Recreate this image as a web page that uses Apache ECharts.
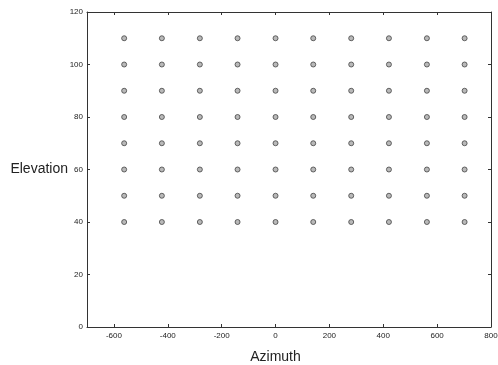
<!DOCTYPE html>
<html><head><meta charset="utf-8">
<script src="https://cdn.jsdelivr.net/npm/echarts@6/dist/echarts.min.js"></script>
<style>html,body{margin:0;padding:0;background:#fff}#c{width:498px;height:365px}</style>
</head><body><div id="c"></div>
<script>
const azimuths = [-562, -422, -281, -141, 0, 140, 281, 421, 562, 702];
const elevations = [110, 100, 90, 80, 70, 60, 50, 40];
const xTicks = [-600, -400, -200, 0, 200, 400, 600, 800];
const yTicks = [0, 20, 40, 60, 80, 100, 120];

const pts = [];
elevations.forEach(e => azimuths.forEach(a => pts.push([a, e])));

const axisLine = {show: true, onZero: false, lineStyle: {color: '#333', width: 1}};
const tickIn = {show: true, inside: true, length: 3, lineStyle: {color: '#333'}};
const lbl = {fontFamily: 'Liberation Sans, Arial', fontSize: 8, color: '#222'};

const chart = echarts.init(document.getElementById('c'), null, {renderer: 'canvas'});
chart.setOption({
  animation: false,
  grid: {left: 87, right: 7, top: 12, bottom: 38, containLabel: false, outerBoundsMode: 'none'},
  xAxis: [
    {type: 'value', min: -700, max: 800, position: 'bottom',
     axisLine, axisTick: Object.assign({}, tickIn, {customValues: xTicks}),
     splitLine: {show: false},
     axisLabel: Object.assign({}, lbl, {margin: 5, customValues: xTicks}),
     name: 'Azimuth', nameLocation: 'middle', nameGap: 23, nameMoveOverlap: false,
     nameTextStyle: {fontFamily: 'Liberation Sans, Arial', fontSize: 14, color: '#222', padding: [0, 27, 0, 0]}},
    {type: 'value', min: -700, max: 800, position: 'top',
     axisLine, axisTick: Object.assign({}, tickIn, {customValues: xTicks}),
     axisLabel: {show: false}, splitLine: {show: false}}
  ],
  yAxis: [
    {type: 'value', min: 0, max: 120, interval: 20, position: 'left',
     axisLine, axisTick: tickIn, splitLine: {show: false},
     axisLabel: Object.assign({}, lbl, {margin: 4}),
     name: 'Elevation', nameLocation: 'middle', nameRotate: 0, nameGap: 19, nameMoveOverlap: false,
     nameTextStyle: {fontFamily: 'Liberation Sans, Arial', fontSize: 14, color: '#222', align: 'right'}},
    {type: 'value', min: 0, max: 120, interval: 20, position: 'right',
     axisLine, axisTick: tickIn, splitLine: {show: false}, axisLabel: {show: false}}
  ],
  series: [{
    type: 'scatter', data: pts, symbol: 'circle', symbolSize: 5,
    itemStyle: {color: '#a8a8a8', borderColor: '#444', borderWidth: 1}
  }]
});
</script></body></html>
